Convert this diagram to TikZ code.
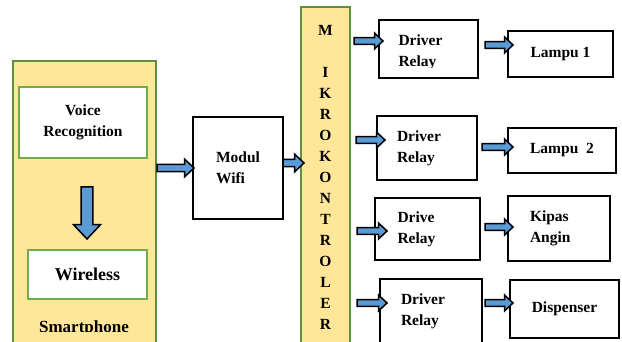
\documentclass[tikz,border=0pt]{standalone}
\usepackage{fontspec}
\setmainfont{Liberation Serif}
\usetikzlibrary{calc}

\definecolor{phoneyellow}{HTML}{FFE699}
\definecolor{darkgreen}{HTML}{5E8F3C}
\definecolor{lightgreen}{HTML}{70AD47}
\definecolor{arrowblue}{HTML}{5B9BD5}

\tikzset{
  box/.style={draw,line width=2pt,rectangle,inner sep=0pt,
    font=\bfseries\fontsize{15.5}{21}\selectfont},
  panel/.style={box,draw=darkgreen,fill=phoneyellow},
  inpanel/.style={box,draw=lightgreen,fill=white,align=center},
  relay/.style={box,align=left,text width=60},
  flow/.style={draw=black,line width=1.5pt,fill=arrowblue,line join=miter},
}

% block arrow from #2 to #3, #1 scales its size
\newcommand{\flowarrow}[3][1]{%
  \pgfmathsetmacro{\fw}{3.4*#1}%
  \pgfmathsetmacro{\fh}{8*#1}%
  \pgfmathsetmacro{\fl}{8.5*#1}%
  \filldraw[flow] ($(#2)!\fw pt!90:(#3)$)
    -- ($(#3)!\fl pt!(#2)!\fw pt!-90:(#2)$)
    -- ($(#3)!\fl pt!(#2)!\fh pt!-90:(#2)$)
    -- (#3)
    -- ($(#3)!\fl pt!(#2)!\fh pt!90:(#2)$)
    -- ($(#3)!\fl pt!(#2)!\fw pt!90:(#2)$)
    -- ($(#2)!\fw pt!-90:(#3)$) -- cycle;}

\begin{document}
\begin{tikzpicture}[x=1pt,y=-1pt]
  \useasboundingbox (0,0) rectangle (622,342);
  \clip (0,0) rectangle (622,342);

  % smartphone side
  \node[panel,minimum width=143,minimum height=299] (phone) at (84.5,210.5) {};
  \node[inpanel,minimum width=128,minimum height=71] (voice) at (83,122.5) {Voice\\Recognition};
  \node[inpanel,minimum width=119,minimum height=49,
    font=\bfseries\fontsize{18}{21}\selectfont] (wireless) at (87.5,274.5) {Wireless};
  \begin{scope}
    \clip (13,61) rectangle (156,331);
    \node[font=\bfseries\fontsize{17}{21}\selectfont,anchor=base] (phonename) at (84,332) {Smartphone};
  \end{scope}

  \node[box,minimum width=90,minimum height=102,align=left] (wifi) at (238,168) {Modul\\Wifi};
  \node[panel,minimum width=49,minimum height=340,align=center] (mcu) at (325.5,177)
    {M\\[21pt]I\\K\\R\\O\\K\\O\\N\\T\\R\\O\\L\\E\\R};

  % relay drivers
  \node[relay,minimum width=99,minimum height=58] (drv1) at (428.5,49) {};
  \begin{scope}
    \clip (drv1.north west) rectangle ([yshift=11]drv1.south east);
    \node[relay,draw=none] (drv1text) at (428.5,52) {Driver\\Relay};
  \end{scope}
  \node[relay,minimum width=100,minimum height=64] (drv2) at (427,148) {Driver\\Relay};
  \node[relay,minimum width=105,minimum height=62] (drv3) at (427.5,229) {Drive\\Relay};
  \node[relay,minimum width=102,minimum height=65] (drv4) at (431,311.5) {Driver\\Relay};

  % loads
  \node[box,minimum width=105,minimum height=46] (lamp1) at (560.5,54) {Lampu 1};
  \node[box,minimum width=108,minimum height=45] (lamp2) at (562,150.5) {Lampu\ \ 2};
  \node[box,minimum width=102,minimum height=65,align=left,text width=58] (fan) at (559,228.5) {Kipas\\Angin};
  \node[box,minimum width=109,minimum height=58] (disp) at (564.5,309) {Dispenser};

  \coordinate (s0) at (87,187);
  \coordinate (s1) at (87,239);
  \coordinate (p0) at (phone.east |- wifi);
  \coordinate (p1) at ([xshift=2]wifi.west);
  \coordinate (w0) at (283,163);
  \coordinate (w1) at (304,163);
  \coordinate (m1) at (354,41);  \coordinate (d1) at (383,41);
  \coordinate (m2) at (356,140); \coordinate (d2) at (385,140);
  \coordinate (m3) at (357,231); \coordinate (d3) at (387,231);
  \coordinate (m4) at (357,303); \coordinate (d4) at (387,303);
  \coordinate (r1) at (485,45);  \coordinate (l1) at (513,45);
  \coordinate (r2) at (482,147); \coordinate (l2) at (513,147);
  \coordinate (r3) at (485,227); \coordinate (l3) at (513,227);
  \coordinate (r4) at (485,303); \coordinate (l4) at (513,303);

  \flowarrow[1.7]{s0}{s1}
  \flowarrow[1.1]{p0}{p1}
  \flowarrow[1.1]{w0}{w1}
  \foreach \a/\b in {m1/d1,m2/d2,m3/d3,m4/d4,r1/l1,r2/l2,r3/l3,r4/l4}
    \flowarrow{\a}{\b};
\end{tikzpicture}
\end{document}
